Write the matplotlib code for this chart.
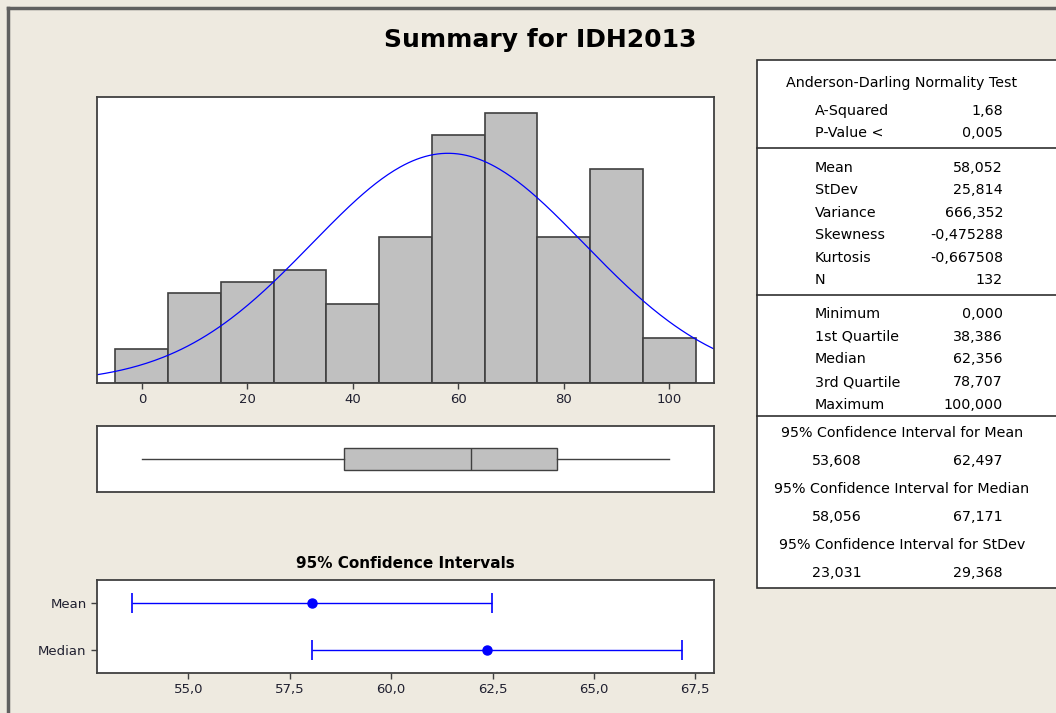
import matplotlib.pyplot as plt
import numpy as np
from matplotlib.patches import Rectangle
from matplotlib.lines import Line2D

# histogram data (bins of width 10 centred on 0..100)
bin_centers = [0, 10, 20, 30, 40, 50, 60, 70, 80, 90, 100]
counts = [3, 8, 9, 10, 7, 13, 22, 24, 13, 19, 4]

# descriptive stats
mean, stdev, n = 58.052, 25.814, 132
minimum, q1, median, q3, maximum = 0.0, 38.386, 62.356, 78.707, 100.0
ci_mean = (53.608, 62.497)
ci_median = (58.056, 67.171)
ci_labels = ['Mean', 'Median']
ci_points = [mean, median]
ci_low = [ci_mean[0], ci_median[0]]
ci_high = [ci_mean[1], ci_median[1]]

table_rows = [
    [('A-Squared', '1,68'), ('P-Value <', '0,005')],
    [('Mean', '58,052'), ('StDev', '25,814'), ('Variance', '666,352'),
     ('Skewness', '-0,475288'), ('Kurtosis', '-0,667508'), ('N', '132')],
    [('Minimum', '0,000'), ('1st Quartile', '38,386'), ('Median', '62,356'),
     ('3rd Quartile', '78,707'), ('Maximum', '100,000')],
]
ci_table = [('95% Confidence Interval for Mean', '53,608', '62,497'),
            ('95% Confidence Interval for Median', '58,056', '67,171'),
            ('95% Confidence Interval for StDev', '23,031', '29,368')]

W, H = 1056, 713
BG = '#EEEAE0'
EDGE = '#404040'
plt.rcParams['font.family'] = 'DejaVu Sans'

fig = plt.figure(figsize=(W / 100, H / 100), dpi=100, facecolor=BG)


def box(x0, y0, x1, y1):
    # pixel box (top-left origin) -> figure fractions
    return [x0 / W, 1 - y1 / H, (x1 - x0) / W, (y1 - y0) / H]


def fx(x):
    return x / W


def fy(y):
    return 1 - y / H


def style(ax):
    for s in ax.spines.values():
        s.set_color(EDGE)
        s.set_linewidth(1.3)
    ax.tick_params(direction='out', length=4, width=1, color=EDGE,
                   labelsize=9.5, labelcolor='#202030')


# outer frame
fig.add_artist(Line2D([fx(8), fx(8)], [fy(8), 0], color='#606060', lw=2.5))
fig.add_artist(Line2D([fx(8), 1], [fy(8), fy(8)], color='#606060', lw=2.5))

fig.text(fx(540), fy(40), 'Summary for IDH2013', ha='center', va='center',
         fontsize=18, fontweight='bold')

# histogram
ax1 = fig.add_axes(box(97, 97, 714, 383))
ax1.bar(bin_centers, counts, width=10, color='#C0C0C0', edgecolor=EDGE, linewidth=1.2)
xs = np.linspace(-8.5, 108.5, 300)
pdf = np.exp(-0.5 * ((xs - mean) / stdev) ** 2) / (stdev * np.sqrt(2 * np.pi))
ax1.plot(xs, pdf * n * 10, color='#0000FF', lw=0.9)
ax1.set_xlim(-8.5, 108.5)
ax1.set_ylim(0, 25.4)
ax1.set_xticks([0, 20, 40, 60, 80, 100])
ax1.set_yticks([])
style(ax1)

# boxplot
ax2 = fig.add_axes(box(97, 426, 714, 492))
ax2.bxp([{'whislo': minimum, 'q1': q1, 'med': median, 'q3': q3, 'whishi': maximum, 'fliers': []}],
        vert=False, positions=[0], widths=0.64, patch_artist=True, showcaps=False,
        boxprops=dict(facecolor='#C0C0C0', edgecolor=EDGE, linewidth=1),
        medianprops=dict(color=EDGE, linewidth=1),
        whiskerprops=dict(color=EDGE, linewidth=1))
ax2.set_xlim(-8.5, 108.5)
ax2.set_ylim(-1, 1)
ax2.set_xticks([])
ax2.set_yticks([])
style(ax2)

# confidence intervals
fig.text(fx(405), fy(564), '95% Confidence Intervals', ha='center', va='center',
         fontsize=11, fontweight='bold')
ax3 = fig.add_axes(box(97, 580, 714, 673))
ypos = [1, 0]
for y, p, lo, hi in zip(ypos, ci_points, ci_low, ci_high):
    ax3.errorbar([p], [y], xerr=[[p - lo], [hi - p]], fmt='o', color='#0000FF',
                 ms=6.5, elinewidth=1, capsize=7.5, capthick=1.2)
ax3.set_xlim(52.75, 67.96)
ax3.set_ylim(-0.5, 1.5)
ax3.set_yticks(ypos)
ax3.set_yticklabels(ci_labels)
ax3.set_xticks([55, 57.5, 60, 62.5, 65, 67.5])
ax3.set_xticklabels(['55,0', '57,5', '60,0', '62,5', '65,0', '67,5'])
style(ax3)

# stats table
fig.add_artist(Rectangle((fx(757), fy(588)), fx(310), (588 - 60) / H,
                         facecolor='white', edgecolor='#303030', lw=1.2,
                         transform=fig.transFigure))
for y in [148, 295, 416]:
    fig.add_artist(Line2D([fx(757), 1], [fy(y), fy(y)], color='#303030', lw=1.2))

fs = 10.3
fig.text(fx(902), fy(83), 'Anderson-Darling Normality Test', ha='center', va='center', fontsize=fs)
row_y = [[111, 133], [168, 190, 213, 235, 258, 280], [314, 337, 359, 382, 405]]
for rows, ys in zip(table_rows, row_y):
    for (lab, val), y in zip(rows, ys):
        fig.text(fx(815), fy(y), lab, ha='left', va='center', fontsize=fs)
        fig.text(fx(1003), fy(y), val, ha='right', va='center', fontsize=fs)
for (title, lo, hi), y in zip(ci_table, [433, 489, 545]):
    fig.text(fx(902), fy(y), title, ha='center', va='center', fontsize=fs)
    fig.text(fx(812), fy(y + 28), lo, ha='left', va='center', fontsize=fs)
    fig.text(fx(1003), fy(y + 28), hi, ha='right', va='center', fontsize=fs)

fig.savefig('out.png', dpi=100, facecolor=BG)
